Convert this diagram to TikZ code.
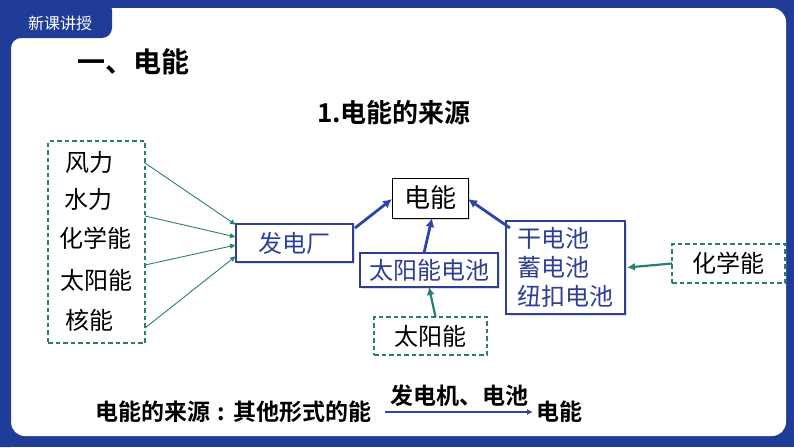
\documentclass[tikz,border=0pt]{standalone}
\usepackage{fontspec}
\setmainfont{Noto Sans CJK SC}[BoldFont={Noto Sans CJK SC Bold}]
\usepackage{xcolor}
\definecolor{frameblue}{HTML}{1F3C98}
\definecolor{srcteal}{HTML}{2A7F74}
\definecolor{boxblue}{HTML}{2F3F93}
\definecolor{flowblue}{HTML}{2C45A6}
\usetikzlibrary{arrows.meta,positioning,shadows}

\begin{document}
\begin{tikzpicture}[
    x=1pt, y=-1pt,
    >=Latex,
    every node/.style={inner sep=0pt, outer sep=0pt, font=\fontsize{24}{29}\selectfont, align=center},
    src_box/.style={draw=srcteal, line width=1.3pt, dash pattern=on 4.5pt off 3pt},
    conv_box/.style={draw=boxblue, line width=1.3pt, fill=white, text=boxblue,
        drop shadow={shadow xshift=1.5pt, shadow yshift=-1.5pt, opacity=0.25, fill=gray}},
    out_box/.style={draw=black, line width=1pt, fill=white,
        drop shadow={shadow xshift=1.5pt, shadow yshift=-1.5pt, opacity=0.25, fill=gray}},
    src_flow/.style={-{Latex[length=6pt, width=5.5pt]}, line width=0.9pt, srcteal},
    feed_flow/.style={-{Latex[length=8pt, width=8pt]}, line width=2.2pt, srcteal},
    main_flow/.style={-{Latex[length=9pt, width=9pt]}, line width=2.8pt, flowblue},
    head_text/.style={font=\fontsize{#1}{#1}\selectfont\bfseries}
]
  \useasboundingbox (0,0) rectangle (794,447);

  % Slide frame
  \fill[frameblue] (0,0) rectangle (794,447);
  \fill[white, rounded corners=14pt] (11,8) rectangle (786,436);
  \fill[frameblue, rounded corners=10pt] (0,0) -- (112,0) -- (112,38) -- (11,38) -- (11,447) -- (0,447) -- cycle;
  \node[text=white, font=\fontsize{16}{16}\selectfont] (tab) at (60,23) {新课讲授};

  % Titles
  \node[head_text=28, anchor=west] (title) at (77,62) {一、电能};
  \node[head_text=26] (subtitle) at (394,113) {1.电能的来源};

  % Sources
  \node[src_box, minimum width=97, minimum height=202] (sources) at (96.5,242) {};
  \node (wind) at (89,162) {风力};
  \node (water) at (88,199) {水力};
  \node (chem_src) at (95,238) {化学能};
  \node (solar_src) at (96,280) {太阳能};
  \node (nuclear) at (89,320) {核能};

  % Converters and output
  \node[conv_box, minimum width=117, minimum height=38] (plant) at (294.5,243) {发电厂};
  \node[out_box, minimum width=76, minimum height=40, font=\fontsize{26}{30}\selectfont] (elec) at (430,198) {电能};
  \node[conv_box, minimum width=138, minimum height=34] (solar_cell) at (429,270) {太阳能电池};
  \node[conv_box, minimum width=119, minimum height=93, align=left] (battery) at (565.5,267.5) {干电池\\蓄电池\\纽扣电池};
  \node[src_box, minimum width=113, minimum height=38] (sun) at (430.5,336) {太阳能};
  \node[src_box, minimum width=113, minimum height=39] (chem) at (728.5,263.5) {化学能};

  % Flows
  \draw[src_flow] ([yshift=79pt]sources.east) -- ([yshift=18pt]plant.west);
  \draw[src_flow] ([yshift=26pt]sources.east) -- ([yshift=6pt]plant.west);
  \draw[src_flow] ([yshift=-23pt]sources.east) -- ([yshift=-2pt]plant.west);
  \draw[src_flow] ([yshift=-86pt]sources.east) -- ([yshift=-13pt]plant.west);

  \draw[main_flow] ([xshift=2pt, yshift=-4pt]plant.north east) -- ([yshift=-1pt]elec.west);
  \draw[main_flow] ([xshift=-5pt]solar_cell.north) -- ([xshift=2pt]elec.south);
  \draw[main_flow] ([xshift=4pt, yshift=-7pt]battery.north west) -- ([yshift=-1pt]elec.east);
  \draw[feed_flow] ([xshift=5pt]sun.north) -- (solar_cell.south);
  \draw[feed_flow] (chem.west) -- ([xshift=2pt]battery.east);

  % Summary line
  \node[head_text=23, anchor=west] (summary) at (95,412) {电能的来源\makebox[1em][c]{:}其他形式的能};
  \node[head_text=23, anchor=west] (result) at (536,412) {电能};
  \draw[-{Latex[length=6pt, width=6pt]}, line width=1.6pt, flowblue]
    ([xshift=14pt]summary.east) -- node[above=5pt, head_text=23, text=black] (means) {发电机、电池} ([xshift=-3pt]result.west);

\end{tikzpicture}
\end{document}
